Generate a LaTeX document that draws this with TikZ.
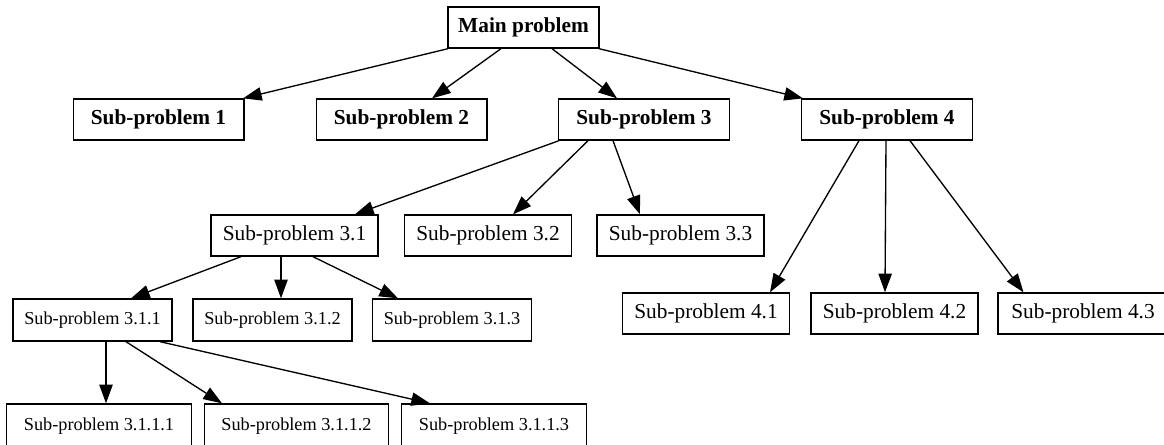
\documentclass[tikz,border=0pt]{standalone}
\usepackage{fontspec}
\setmainfont{Liberation Serif}
\usetikzlibrary{arrows.meta,calc}

\tikzset{
  box/.style={draw, line width=1pt, inner sep=0pt, minimum height=30.75pt},
  big/.style={font=\fontsize{16}{19}\selectfont},
  small/.style={font=\fontsize{13.7}{16}\selectfont},
  arr/.style={line width=1pt, -{Triangle[length=14pt,width=10pt]}}
}

\begin{document}
\begin{tikzpicture}[x=0.75pt,y=-0.75pt]
      \useasboundingbox (0,0) rectangle (1164,444);
      % top
      \node[box,big,minimum width=113.25pt] (main) at (523.5,27.5) {\textbf{Main problem}};
      % first level
      \node[box,big,minimum width=128pt] (s1) at (158.5,119.5) {\textbf{Sub-problem 1}};
      \node[box,big,minimum width=128pt] (s2) at (401.5,119.5) {\textbf{Sub-problem 2}};
      \node[box,big,minimum width=128pt] (s3) at (644,119.5) {\textbf{Sub-problem 3}};
      \node[box,big,minimum width=128pt] (s4) at (887,119.5) {\textbf{Sub-problem 4}};
      % second level
      \node[box,big,minimum width=125.25pt] (s31) at (294.5,235.5) {Sub-problem 3.1};
      \node[box,big,minimum width=125.25pt] (s32) at (488,235.5) {Sub-problem 3.2};
      \node[box,big,minimum width=125.25pt] (s33) at (680.5,235.5) {Sub-problem 3.3};
      \node[box,big,minimum width=125.25pt] (s41) at (706,313.5) {Sub-problem 4.1};
      \node[box,big,minimum width=125.25pt] (s42) at (894.5,313.5) {Sub-problem 4.2};
      \node[box,big,minimum width=127.5pt] (s43) at (1083,313.5) {Sub-problem 4.3};
      % third and fourth level
      \node[box,small,minimum width=119.25pt,minimum height=31.5pt] (s311) at (92.5,320) {Sub-problem 3.1.1};
      \node[box,small,minimum width=119.25pt,minimum height=31.5pt] (s312) at (272.5,320) {Sub-problem 3.1.2};
      \node[box,small,minimum width=119.25pt,minimum height=31.5pt] (s313) at (452,320) {Sub-problem 3.1.3};
      \node[box,small,minimum width=138.4pt,minimum height=33pt] (s3111) at (99,426) {Sub-problem 3.1.1.1};
      \node[box,small,minimum width=138.4pt,minimum height=33pt] (s3112) at (296.5,426) {Sub-problem 3.1.1.2};
      \node[box,small,minimum width=138.4pt,minimum height=33pt] (s3113) at (494,426) {Sub-problem 3.1.1.3};

      \draw[arr] ($(main.south)+(-75.5,0)$) -- ($(s1.north)+(84.5,0)$);
      \draw[arr] ($(main.south)+(-22.5,0)$) -- ($(s2.north)+(30.5,0)$);
      \draw[arr] ($(main.south)+(28.5,0)$) -- ($(s3.north)+(-27,0)$);
      \draw[arr] ($(main.south)+(75.5,0)$) -- ($(s4.north)+(-84,0)$);

      \draw[arr] ($(s3.south)+(-85,0)$) -- ($(s31.north)+(60.5,0)$);
      \draw[arr] ($(s3.south)+(-56,0)$) -- ($(s32.north)+(25,0)$);
      \draw[arr] ($(s3.south)+(-31,0)$) -- ($(s33.north)+(-40.5,0)$);

      \draw[arr] ($(s4.south)+(-28,0)$) -- ($(s41.north)+(64,0)$);
      \draw[arr] ($(s4.south)+(-1,0)$) -- ($(s42.north)+(-9.5,0)$);
      \draw[arr] ($(s4.south)+(23,0)$) -- ($(s43.north)+(-59.5,0)$);

      \draw[arr] ($(s31.south)+(-53.5,0)$) -- ($(s311.north)+(38.5,0)$);
      \draw[arr] ($(s31.south)+(-13.5,0)$) -- ($(s312.north)+(8.5,0)$);
      \draw[arr] ($(s31.south)+(18.5,0)$) -- ($(s313.north)+(-54,0)$);

      \draw[arr] ($(s311.south)+(13.5,0)$) -- ($(s3111.north)+(7,0)$);
      \draw[arr] ($(s311.south)+(33.5,0)$) -- ($(s3112.north)+(-74.5,0)$);
      \draw[arr] ($(s311.south)+(67.5,0)$) -- ($(s3113.north)+(-64,0)$);
    \end{tikzpicture}
\end{document}
